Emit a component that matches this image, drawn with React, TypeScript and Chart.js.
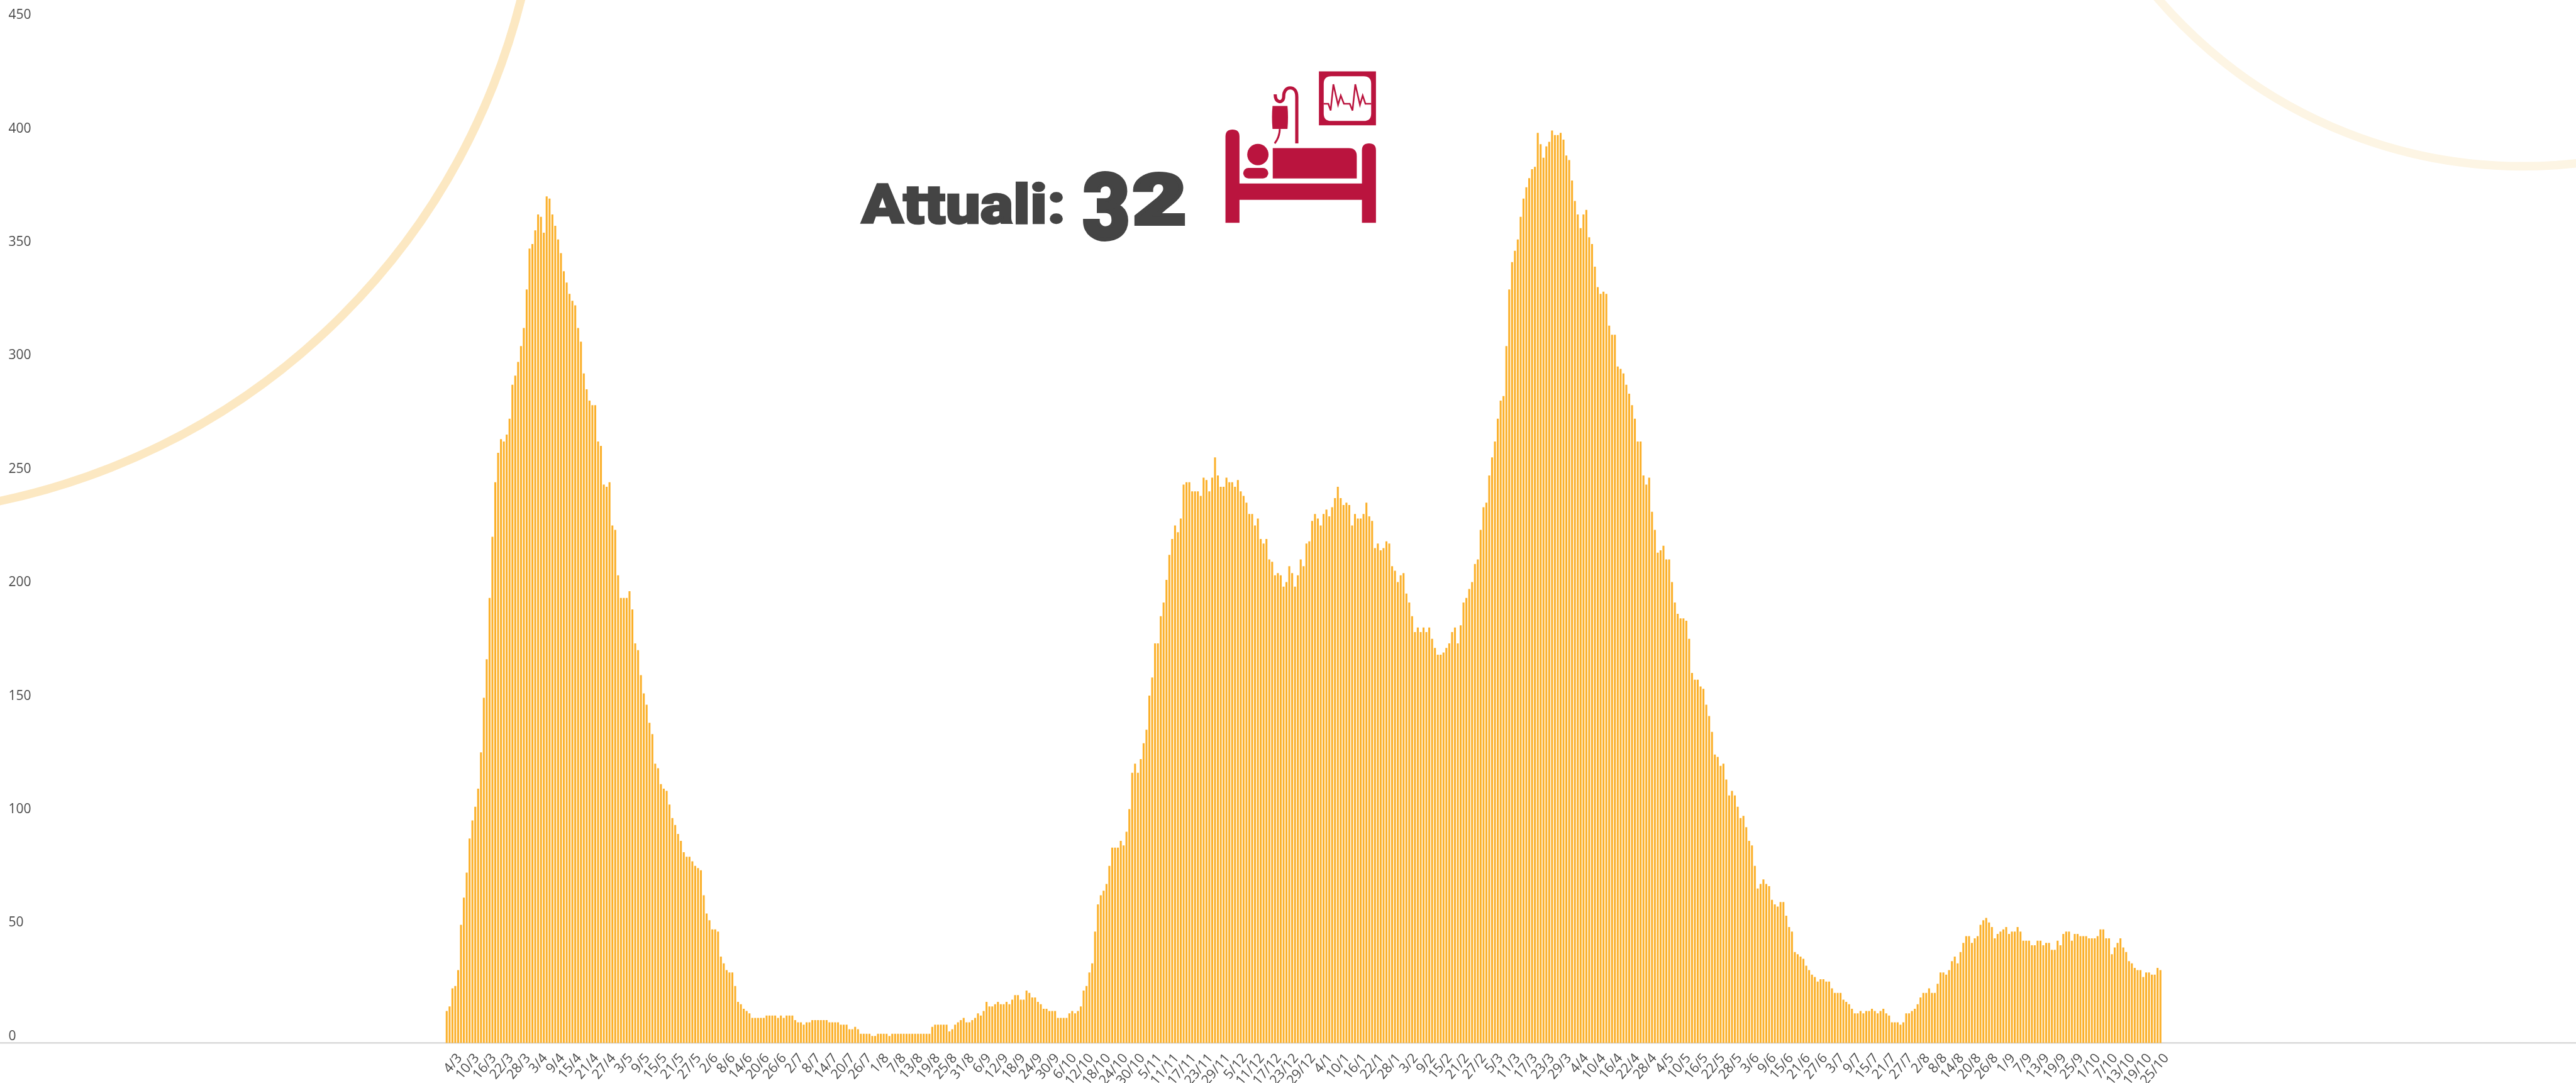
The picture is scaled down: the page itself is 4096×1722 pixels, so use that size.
import React, { useEffect, useRef } from "react";
import { Chart, registerables } from "chart.js";

Chart.register(...registerables);

const WIDTH = 4096;
const HEIGHT = 1722;

const firstWave = [
  14, 16, 24, 25, 32, 52, 64, 75, 90, 98, 104, 112, 128, 152, 169, 196, 223, 247, 260, 266,
  265, 268, 275, 290, 294, 300, 307, 315, 332, 350, 352, 358, 365, 364, 357, 373, 372, 365, 360, 354,
  348, 340, 335, 330, 327, 325, 315, 309, 295, 288, 283, 281, 281, 265, 263, 246, 245, 247, 228, 226,
  206, 196, 196, 196, 199, 191, 176, 173, 162, 154, 149, 141, 136, 123, 121, 114, 112, 111, 105, 99,
  96, 92, 89, 84, 82, 82, 80, 78, 77, 76, 65, 57, 54, 50, 50, 49, 38,
];
const summer2020 = [
  35, 32, 31, 31, 25, 18, 17, 15, 14, 13, 11, 11, 11, 11, 11, 12, 12, 12, 12, 11,
  12, 11, 12, 12, 12, 10, 9, 9, 8, 9, 9, 10, 10, 10, 10, 10, 10, 9, 9, 9,
  9, 8, 8, 8, 6, 6, 7, 6, 4, 4, 4, 4, 3, 3, 4, 4, 4, 4, 3, 4,
  4, 4, 4, 4, 4, 4, 4, 4, 4, 4, 4, 4, 4, 7, 8, 8, 8, 8, 8,
  5, 6, 8, 9, 10, 11, 9, 9, 10, 11, 13, 12, 14, 18, 16, 16, 17, 18, 17, 17,
  18, 17, 19, 21, 21, 19, 19, 23, 22, 20, 20, 18, 17, 15, 15, 14, 14, 14, 11, 11,
  11, 11, 13, 14, 13, 14, 16, 23,
];
const secondWave = [
  25, 31, 35, 49, 61, 65, 67, 70, 78, 86, 86, 86, 89, 87, 93, 103, 119, 123, 119, 125,
  132, 138, 153, 161, 176, 176, 188, 194, 204, 215, 222, 228, 225, 231, 246, 247, 247, 243, 243, 243,
  241, 249, 248, 243, 249, 258, 250, 245, 245, 249, 247, 247, 245, 248, 243, 241, 238, 233, 233, 228,
  231, 222, 220, 222, 213, 212, 206, 207, 206, 201, 203, 210, 207, 201, 206, 213, 210, 220, 221, 230,
  233, 231, 228, 233, 235, 232, 236, 240, 245, 240, 237, 238, 237, 228, 233, 231, 231, 233,
];
const thirdWaveRise = [
  238, 232, 230, 218, 220, 217, 218, 221, 220, 210, 208, 203, 206, 207, 198, 194, 188, 181, 183,
  181, 183, 181, 183, 178, 174, 171, 171, 172, 174, 176, 181, 183, 176, 184, 194, 196, 200, 203, 211,
  213, 226, 236, 238, 250, 258, 265, 275, 283, 285, 307, 332, 344, 349, 354, 364, 372, 377, 381, 385,
  386, 401, 396, 390, 395, 397, 402, 400, 400, 401, 398, 391, 389, 380, 371, 365, 359, 365, 367, 355,
  352, 342, 333, 330, 331, 330, 316, 312, 312, 298, 297, 295, 290, 286, 281, 275, 265, 265,
];
const thirdWaveFall = [
  250, 246, 249, 234, 226, 216, 217, 219, 213, 213, 203, 194, 189, 187, 187, 186, 178, 163, 160, 160,
  157, 156, 149, 144, 137, 127, 126, 122, 123, 116, 109, 111, 109, 104, 99, 100, 95, 89, 87, 78,
  68, 70, 72, 70, 69, 63, 61, 60, 62, 62, 56, 51, 49, 40, 39, 38, 37, 34, 32, 30,
  29, 27, 28, 28, 27, 27, 24, 22, 22, 22, 19, 18, 17, 15, 13, 13, 14, 13, 14,
  14, 15, 14, 13, 14, 15, 13, 12, 9, 9, 9, 8, 9, 13, 13, 14, 15,
];
const autumn2021 = [
  17, 20, 22, 22, 24, 22, 22, 26, 31, 31, 30, 32, 36, 38, 35, 40, 44, 47, 47, 44,
  46, 47, 52, 54, 55, 53, 51, 46, 48, 49, 50, 51, 48, 49, 49, 51, 49, 45, 45, 45,
  43, 43, 45, 45, 43, 44, 44, 41, 41, 45, 43, 48, 49, 49, 45, 48, 48, 47, 47, 47,
  46, 46, 46, 47, 50, 50, 46, 46, 39, 42, 44, 46, 42, 40, 36, 35, 33, 32, 32, 29,
  31, 31, 30, 30, 33, 32,
];
const values = [...firstWave, ...summer2020, ...secondWave, ...thirdWaveRise, ...thirdWaveFall, ...autumn2021];

const tickLabels = [
  "4/3", "10/3", "16/3", "22/3", "28/3", "3/4", "9/4", "15/4", "21/4", "27/4", "3/5", "9/5", "15/5", "21/5", "27/5",
  "2/6", "8/6", "14/6", "20/6", "26/6", "2/7", "8/7", "14/7", "20/7", "26/7", "1/8", "7/8", "13/8", "19/8", "25/8",
  "31/8", "6/9", "12/9", "18/9", "24/9", "30/9", "6/10", "12/10", "18/10", "24/10", "30/10", "5/11", "11/11", "17/11",
  "23/11", "29/11", "5/12", "11/12", "17/12", "23/12", "29/12", "4/1", "10/1", "16/1", "22/1", "28/1", "3/2", "9/2",
  "15/2", "21/2", "27/2", "5/3", "11/3", "17/3", "23/3", "29/3", "4/4", "10/4", "16/4", "22/4", "28/4", "4/5", "10/5",
  "16/5", "22/5", "28/5", "3/6", "9/6", "15/6", "21/6", "27/6", "3/7", "9/7", "15/7", "21/7", "27/7", "2/8", "8/8",
  "14/8", "20/8", "26/8", "1/9", "7/9", "13/9", "19/9", "25/9", "1/10", "7/10", "13/10", "19/10", "25/10",
];

const BAR_COLOR = "rgb(251,176,42)";
const TEXT_COLOR = "#4a4a4a";
const RED = "#ba143e";
const FONT = "'Open Sans', sans-serif";

export default function App() {
  const ref = useRef<HTMLCanvasElement>(null);

  useEffect(() => {
    const canvas = ref.current;
    if (!canvas) return;
    const chart = new Chart(canvas, {
      type: "bar",
      data: {
        datasets: [
          {
            label: "Attuali",
            data: values.map((y, i) => ({ x: i, y })),
            backgroundColor: BAR_COLOR,
            borderWidth: 0,
            barThickness: 2.4,
          },
        ],
      },
      options: {
        responsive: false,
        animation: false,
        events: [],
        layout: { padding: { top: 34.7, left: 0, right: 0, bottom: 0 } },
        plugins: { legend: { display: false }, tooltip: { enabled: false } },
        scales: {
          x: {
            type: "linear",
            offset: false,
            min: -156.4,
            max: 745.5,
            afterFit: (s: any) => {
              s.height = 63.6;
            },
            afterBuildTicks: (s: any) => {
              s.ticks = tickLabels.map((_, k) => ({ value: 4.57 + k * 5.975 }));
            },
            grid: { display: false, drawTicks: false, offset: false },
            border: { display: true, color: "#d9d9d9", width: 2.6 },
            ticks: {
              autoSkip: false,
              minRotation: 50,
              maxRotation: 50,
              padding: 12,
              color: TEXT_COLOR,
              font: { family: FONT, size: 21.5 },
              callback: (_v: any, index: number) => tickLabels[index],
            },
          },
          y: {
            min: 0,
            max: 450,
            afterFit: (s: any) => {
              s.width = 0;
            },
            grid: { display: false, drawTicks: false },
            border: { display: false },
            ticks: {
              stepSize: 50,
              mirror: true,
              padding: 13.5,
              labelOffset: -10.5,
              color: TEXT_COLOR,
              font: { family: FONT, size: 21 },
            },
          },
        },
      },
    } as any);
    return () => chart.destroy();
  }, []);

  return (
    <div style={{ position: "absolute", left: 0, top: 0, width: WIDTH, height: HEIGHT, overflow: "hidden", background: "#fff" }}>
      <svg
        width={WIDTH}
        height={HEIGHT}
        viewBox="0 0 4832 2032"
        preserveAspectRatio="none"
        style={{ position: "absolute", left: 0, top: 0 }}
      >
        <circle cx={-262} cy={-310} r={1277} fill="none" stroke="#fce8c2" strokeWidth={16} />
        <circle cx={4732} cy={-589} r={901} fill="none" stroke="#fdf5e4" strokeWidth={16} />

        <text
          x={1616}
          y={419}
          fontFamily="Roboto, sans-serif"
          fontWeight={900}
          fontSize={103}
          fill="#444444"
          stroke="#444444"
          strokeWidth={3}
          textLength={383}
          lengthAdjust="spacingAndGlyphs"
        >
          Attuali:
        </text>
        <text fontFamily="Roboto, sans-serif" fontWeight={900} fill="#444444" stroke="#444444" strokeWidth={7}>
          <tspan x={2031} y={448} fontSize={170} textLength={88} lengthAdjust="spacingAndGlyphs">3</tspan>
          <tspan x={2125} y={420} fontSize={132} textLength={100} lengthAdjust="spacingAndGlyphs">2</tspan>
        </text>

        <g fill={RED}>
          <path d="M2298.7 418 V256 Q2298.7 243 2312 243 Q2325 243 2325 256 V344.3 H2554.7 V282 Q2554.7 269 2568 269 Q2581 269 2581 282 V418 H2554.7 V375 H2325 V418 Z" />
          <ellipse cx={2359.5} cy={290} rx={20} ry={20} />
          <rect x={2332} y={315} width={47} height={19.7} rx={10} />
          <path d="M2387.4 278 H2530 Q2545 278 2545 293 V334.7 H2387.4 Z" />
          <path d="M2387 198.7 H2415 Q2417 220 2415 242 H2387 Q2385 220 2387 198.7 Z" />
          <path
            fillRule="evenodd"
            d="M2474 134 H2581 V235 H2474 Z M2497 143 Q2483 143 2483 157 V213 Q2483 227 2497 227 H2558 Q2572 227 2572 213 V157 Q2572 143 2558 143 Z"
          />
        </g>
        <g fill="none" stroke={RED}>
          <path d="M2400.6 242 Q2400 258 2391 269" strokeWidth={3.5} />
          <path
            d="M2432.5 269 V182 C2432.5 170 2427 165 2420 165 C2412 165 2408 172 2408 180 C2408 190 2402 192 2398 190 C2393 188 2392 182 2392 177"
            strokeWidth={6}
          />
          <polyline
            strokeWidth={3}
            points="2482.8,194.7 2491.6,194.7 2496,207.3 2501.1,158.3 2509.9,196.7 2515,179.3 2520.9,194.7 2531.9,194.7 2537,207.3 2542.2,158.3 2551,196.7 2556.1,179.3 2561.2,194.7 2572.2,194.7"
          />
        </g>
      </svg>
      <canvas ref={ref} width={WIDTH} height={HEIGHT} style={{ position: "absolute", left: 0, top: 0, display: "block" }} />
    </div>
  );
}
